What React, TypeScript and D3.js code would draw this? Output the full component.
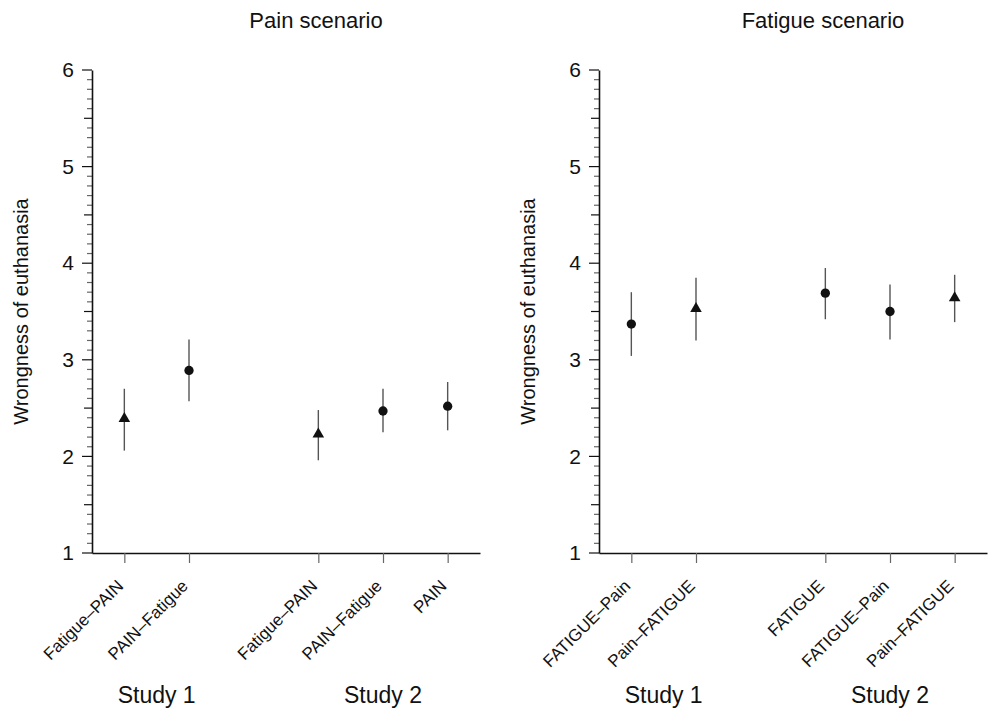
import React, { useEffect, useRef } from 'react'
import * as d3 from 'd3'

// Pain scenario
const painCats = ['Fatigue–PAIN', 'PAIN–Fatigue', 'Fatigue–PAIN', 'PAIN–Fatigue', 'PAIN']
const painStudy = ['Study 1', 'Study 1', 'Study 2', 'Study 2', 'Study 2']
const painMean = [2.39, 2.89, 2.23, 2.47, 2.52]
const painLow = [2.06, 2.57, 1.96, 2.25, 2.27]
const painHigh = [2.70, 3.21, 2.48, 2.70, 2.77]
const painShape = ['triangle', 'circle', 'triangle', 'circle', 'circle']

// Fatigue scenario
const fatCats = ['FATIGUE–Pain', 'Pain–FATIGUE', 'FATIGUE', 'FATIGUE–Pain', 'Pain–FATIGUE']
const fatStudy = ['Study 1', 'Study 1', 'Study 2', 'Study 2', 'Study 2']
const fatMean = [3.37, 3.53, 3.69, 3.50, 3.64]
const fatLow = [3.04, 3.20, 3.42, 3.21, 3.39]
const fatHigh = [3.70, 3.85, 3.95, 3.78, 3.88]
const fatShape = ['circle', 'triangle', 'circle', 'circle', 'triangle']

const yTicks = [1, 2, 3, 4, 5, 6]
const FONT = '"Liberation Sans", Arial, Helvetica, sans-serif'

type Panel = {
  title: string
  cats: string[]
  study: string[]
  mean: number[]
  low: number[]
  high: number[]
  shape: string[]
  left: number
}

const panels: Panel[] = [
  { title: 'Pain scenario', cats: painCats, study: painStudy, mean: painMean, low: painLow, high: painHigh, shape: painShape, left: 92 },
  { title: 'Fatigue scenario', cats: fatCats, study: fatStudy, mean: fatMean, low: fatLow, high: fatHigh, shape: fatShape, left: 599 },
]

// slot index leaves one empty slot between studies
function slots(study: string[]) {
  let gap = 0
  return study.map((s, i) => {
    if (i > 0 && s !== study[i - 1]) gap += 1
    return i + gap
  })
}

export default function App() {
  const ref = useRef<SVGSVGElement>(null)

  useEffect(() => {
    const svg = d3.select(ref.current)
    svg.selectAll('*').remove()

    const top = 70, bottom = 553, plotW = 388

    const y = d3.scaleLinear().domain([1, 6]).range([bottom, top])

    panels.forEach(p => {
      const g = svg.append('g').attr('font-family', FONT)
      const pos = slots(p.study)
      const x = d3.scaleLinear().domain([0, 6]).range([p.left, p.left + plotW])
      const cx = (i: number) => x(pos[i] + 0.5)

      // minor ticks
      g.selectAll('line.minor')
        .data(d3.range(10, 61).map(d => d / 10))
        .enter().append('line')
        .attr('x1', d => {
          const r = Math.round(d * 10)
          if (r % 10 === 0) return p.left - 10
          if (r % 5 === 0) return p.left - 8
          return p.left - 5
        })
        .attr('x2', p.left)
        .attr('y1', d => y(d)).attr('y2', d => y(d))
        .attr('stroke', d => Math.round(d * 10) % 5 === 0 ? '#111' : '#666')
        .attr('stroke-width', 1.2)

      // y axis
      const ya = g.append('g').attr('transform', `translate(${p.left},0)`)
        .call(d3.axisLeft(y).tickValues(yTicks).tickSize(10).tickSizeOuter(0).tickPadding(8).tickFormat(d3.format('d')))
      ya.attr('font-size', 21).attr('font-family', FONT)
      ya.select('.domain').attr('stroke', '#111').attr('stroke-width', 1.6)
      ya.selectAll('.tick line').remove()
      ya.selectAll('.tick text').attr('fill', '#111')

      // x axis
      const xa = g.append('g').attr('transform', `translate(0,${bottom})`)
        .call(d3.axisBottom(x).tickValues(pos.map(s => s + 0.5)).tickSize(10).tickSizeOuter(0).tickFormat(() => ''))
      xa.select('.domain').attr('stroke', '#111').attr('stroke-width', 1.6)
      xa.selectAll('.tick line').attr('stroke', '#666').attr('stroke-width', 1.2)

      // rotated category labels
      g.selectAll('text.cat')
        .data(p.cats)
        .enter().append('text')
        .attr('class', 'cat')
        .attr('transform', (d, i) => `translate(${cx(i)},${bottom + 34}) rotate(-45)`)
        .attr('text-anchor', 'end')
        .attr('font-size', 17)
        .attr('fill', '#111')
        .text(d => d)

      // study labels
      const studies = Array.from(new Set(p.study))
      studies.forEach(s => {
        const idx = p.study.map((v, i) => (v === s ? i : -1)).filter(i => i >= 0)
        const mid = (cx(idx[0]) + cx(idx[idx.length - 1])) / 2
        g.append('text').attr('x', mid).attr('y', 703)
          .attr('text-anchor', 'middle').attr('font-size', 23).attr('fill', '#111')
          .text(s)
      })

      // title
      g.append('text').attr('x', p.left + plotW / 2 + 30).attr('y', 28)
        .attr('text-anchor', 'middle').attr('font-size', 22).attr('fill', '#111')
        .text(p.title)

      // y label
      g.append('text')
        .attr('transform', `translate(${p.left - 64},${(top + bottom) / 2}) rotate(-90)`)
        .attr('text-anchor', 'middle').attr('font-size', 20).attr('fill', '#111')
        .text('Wrongness of euthanasia')

      // error bars
      g.selectAll('line.err')
        .data(p.mean)
        .enter().append('line')
        .attr('x1', (d, i) => cx(i)).attr('x2', (d, i) => cx(i))
        .attr('y1', (d, i) => y(p.low[i])).attr('y2', (d, i) => y(p.high[i]))
        .attr('stroke', '#555').attr('stroke-width', 1.4)

      // markers
      const tri = d3.symbol().type(d3.symbolTriangle).size(58)
      const circ = d3.symbol().type(d3.symbolCircle).size(68)
      g.selectAll('path.mark')
        .data(p.mean)
        .enter().append('path')
        .attr('transform', (d, i) => `translate(${cx(i)},${y(d)})`)
        .attr('d', (d, i) => (p.shape[i] === 'triangle' ? tri() : circ()) as string)
        .attr('fill', '#111')
    })
  }, [])

  return (
    <svg ref={ref} width={990} height={712}
      style={{ position: 'absolute', left: 0, top: 0, background: '#fff' }} />
  )
}
